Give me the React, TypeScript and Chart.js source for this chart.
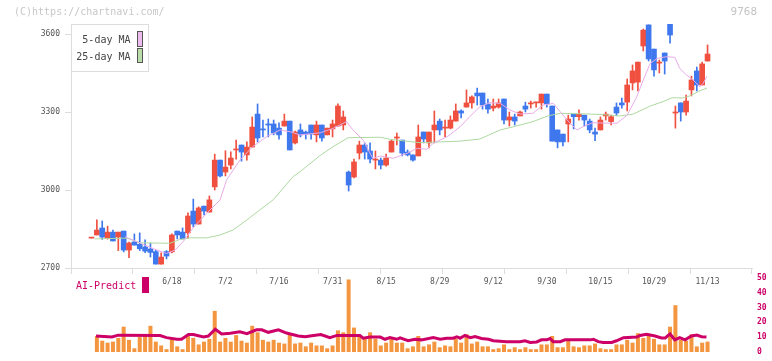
import React, { useEffect, useRef } from 'react';
import { Chart, registerables } from 'chart.js';

Chart.register(...registerables);

// ---------- data ----------
const OPEN = [
  2815, 2827, 2854, 2814, 2838, 2819, 2842, 2769, 2800, 2791,
  2781, 2773, 2763, 2715, 2763, 2762, 2842, 2838, 2835, 2919,
  2869, 2938, 2915, 3012, 3115, 3069, 3096, 3154, 3173, 3135,
  3165, 3292, 3235, 3254, 3254, 3238, 3246, 3265, 3181, 3231,
  3223, 3250, 3212, 3250, 3212, 3235, 3246, 3250, 3069, 3050,
  3142, 3173, 3150, 3115, 3115, 3096, 3146, 3200, 3192, 3146,
  3135, 3131, 3223, 3181, 3231, 3265, 3238, 3238, 3265, 3304,
  3319, 3335, 3373, 3373, 3331, 3315, 3319, 3350, 3269, 3281,
  3285, 3323, 3331, 3335, 3335, 3369, 3323, 3231, 3215, 3254,
  3292, 3282, 3288, 3265, 3223, 3231, 3285, 3263, 3319, 3335,
  3338, 3412, 3415, 3554, 3635, 3542, 3488, 3527, 3645, 3296,
  3335, 3300, 3385, 3458, 3404, 3496,
];
const HIGH = [
  2815, 2885, 2881, 2861, 2846, 2838, 2842, 2800, 2831, 2835,
  2808, 2796, 2769, 2758, 2767, 2831, 2842, 2854, 2912, 2965,
  2935, 2938, 2977, 3138, 3115, 3151, 3147, 3192, 3173, 3185,
  3281, 3331, 3269, 3273, 3269, 3258, 3292, 3265, 3227, 3254,
  3227, 3250, 3265, 3250, 3238, 3269, 3331, 3304, 3073, 3119,
  3188, 3181, 3181, 3150, 3123, 3138, 3192, 3219, 3192, 3154,
  3135, 3250, 3223, 3223, 3304, 3273, 3269, 3285, 3331, 3308,
  3385, 3362, 3392, 3373, 3350, 3350, 3350, 3350, 3300, 3292,
  3304, 3338, 3342, 3338, 3369, 3369, 3323, 3231, 3215, 3288,
  3292, 3308, 3288, 3273, 3238, 3281, 3300, 3288, 3335, 3354,
  3427, 3481, 3492, 3619, 3635, 3542, 3500, 3527, 3645, 3323,
  3335, 3365, 3438, 3473, 3492, 3558,
];
const LOW = [
  2815, 2827, 2810, 2811, 2804, 2767, 2762, 2740, 2788, 2767,
  2759, 2742, 2715, 2715, 2735, 2758, 2812, 2812, 2815, 2858,
  2869, 2904, 2915, 3000, 3050, 3054, 3081, 3119, 3111, 3115,
  3165, 3185, 3204, 3204, 3212, 3196, 3246, 3154, 3177, 3204,
  3196, 3196, 3185, 3188, 3212, 3204, 3246, 3231, 2996, 3046,
  3119, 3119, 3104, 3081, 3081, 3092, 3146, 3173, 3131, 3131,
  3111, 3131, 3181, 3162, 3181, 3212, 3204, 3235, 3265, 3277,
  3319, 3315, 3327, 3311, 3296, 3304, 3315, 3254, 3246, 3250,
  3285, 3300, 3315, 3319, 3311, 3319, 3188, 3162, 3170, 3185,
  3235, 3269, 3246, 3220, 3190, 3231, 3269, 3250, 3285, 3315,
  3304, 3385, 3381, 3535, 3496, 3438, 3450, 3446, 3565, 3238,
  3265, 3288, 3362, 3381, 3404, 3496,
];
const CLOSE = [
  2815, 2846, 2819, 2838, 2804, 2838, 2769, 2796, 2788, 2774,
  2765, 2760, 2715, 2742, 2746, 2827, 2827, 2812, 2900, 2869,
  2931, 2919, 2962, 3115, 3054, 3088, 3123, 3158, 3146, 3165,
  3242, 3200, 3231, 3250, 3219, 3212, 3265, 3154, 3223, 3212,
  3215, 3215, 3250, 3200, 3238, 3254, 3323, 3281, 3019, 3108,
  3173, 3146, 3119, 3119, 3096, 3123, 3188, 3204, 3142, 3135,
  3115, 3204, 3196, 3223, 3250, 3231, 3242, 3269, 3304, 3296,
  3335, 3358, 3362, 3327, 3311, 3323, 3335, 3269, 3281, 3265,
  3300, 3311, 3335, 3338, 3369, 3331, 3188, 3185, 3185, 3273,
  3282, 3292, 3269, 3231, 3215, 3269, 3292, 3282, 3296, 3327,
  3404, 3458, 3492, 3615, 3504, 3462, 3492, 3496, 3596, 3300,
  3300, 3342, 3423, 3404, 3485, 3523,
];
const VOLUME = [
  null, 10.8, 7.6, 6.3, 7.0, 9.5, 17.1, 8.2, 2.5, 10.1,
  10.8, 17.7, 7.0, 4.4, 1.9, 8.9, 3.8, 1.9, 10.8, 9.5,
  5.1, 7.0, 8.9, 27.8, 7.0, 9.5, 7.0, 11.4, 7.6, 6.3,
  17.7, 13.3, 8.2, 7.0, 8.2, 6.3, 5.7, 12.0, 5.7, 6.3,
  3.8, 6.3, 4.4, 4.4, 2.5, 4.4, 14.6, 13.3, 49.0, 16.5,
  10.8, 8.9, 13.3, 8.9, 4.4, 6.3, 8.9, 6.3, 6.3, 2.5,
  3.8, 10.8, 3.8, 5.1, 7.0, 3.2, 4.4, 3.8, 8.9, 6.3,
  12.0, 5.7, 7.0, 3.8, 3.8, 1.9, 2.5, 5.1, 1.9, 3.2,
  1.9, 3.2, 1.9, 1.9, 5.1, 5.1, 10.8, 3.2, 3.2, 7.6,
  3.8, 3.2, 4.4, 4.4, 5.7, 2.5, 1.9, 1.9, 5.1, 5.1,
  8.2, 6.3, 12.7, 9.5, 11.4, 8.9, 5.1, 5.1, 17.1, 31.6,
  8.2, 7.6, 12.0, 3.8, 6.3, 7.0,
];

const MA5_X = [6.25, 9.05, 12.2, 14.0, 15.6, 17.1, 18.9, 21.5, 24.0, 25.2, 27.7, 30.1, 32.7, 35.2, 37.1, 38.9, 42.7, 45.1, 47.6, 48.8, 50.7, 52.5, 53.9, 56.3, 58.9, 60.8, 62.6, 63.8, 66.4, 68.8, 70.6, 72.5, 74.4, 76.3, 78.1, 80.0, 82.4, 84.3, 86.2, 87.5, 88.8, 90.6, 91.7, 93.6, 96.2, 98.1, 100.0, 101.8, 103.0, 104.3, 105.6, 107.4, 108.9, 109.8, 111.1, 112.3, 113.6, 114.2, 114.9];
const MA5_Y = [2820, 2796, 2769, 2756, 2769, 2801, 2853, 2910, 2962, 3038, 3115, 3167, 3205, 3231, 3224, 3212, 3220, 3237, 3263, 3231, 3192, 3122, 3131, 3122, 3141, 3160, 3157, 3180, 3205, 3243, 3282, 3320, 3336, 3333, 3308, 3292, 3295, 3327, 3333, 3301, 3269, 3231, 3243, 3259, 3257, 3257, 3288, 3359, 3423, 3487, 3506, 3513, 3510, 3468, 3442, 3423, 3397, 3411, 3438];

const MA25_X = [0.65, 6.6, 9.05, 14.65, 16.5, 18.5, 21.5, 24.0, 26.4, 29.0, 31.4, 33.9, 37.6, 38.9, 42.7, 45.1, 47.9, 53.9, 55.7, 61.3, 65.1, 68.8, 72.5, 73.8, 76.3, 78.7, 82.4, 85.2, 87.5, 93.1, 95.5, 98.7, 101.1, 104.3, 106.7, 108.4, 110.4, 111.7, 113.6, 114.9];
const MA25_Y = [2812, 2815, 2797, 2795, 2810, 2816, 2816, 2827, 2846, 2885, 2923, 2962, 3051, 3070, 3133, 3167, 3201, 3203, 3195, 3182, 3185, 3188, 3196, 3208, 3231, 3243, 3263, 3285, 3295, 3292, 3290, 3285, 3292, 3323, 3340, 3355, 3354, 3362, 3382, 3392];

const AI_X = [0.84, 3.8, 5.0, 12.8, 14.0, 15.9, 16.8, 18.1, 19.0, 20.9, 21.8, 23.1, 24.3, 25.9, 27.7, 29.0, 30.8, 31.8, 33.0, 34.9, 36.4, 38.6, 39.9, 40.8, 42.8, 44.5, 45.8, 50.1, 50.7, 52.0, 53.9, 54.8, 55.7, 57.0, 57.6, 59.1, 60.4, 61.6, 63.8, 65.1, 66.3, 67.5, 68.2, 68.8, 69.7, 70.7, 71.6, 72.8, 74.1, 75.0, 77.5, 80.0, 80.9, 81.9, 83.1, 84.0, 85.0, 85.6, 86.2, 87.5, 88.4, 93.1, 93.7, 94.6, 95.5, 97.1, 98.0, 99.3, 101.8, 102.4, 103.6, 105.2, 106.4, 107.1, 108.0, 108.9, 109.8, 110.8, 112.0, 113.0, 113.9, 114.8];
const AI_Y = [10.8, 10.1, 11.4, 11.1, 9.7, 8.6, 8.6, 11.8, 11.8, 10.1, 10.8, 15.4, 12.2, 12.7, 13.7, 12.4, 15.0, 15.0, 13.3, 15.0, 12.8, 10.8, 10.3, 10.8, 11.8, 9.7, 11.2, 11.2, 9.3, 10.1, 10.1, 8.6, 9.7, 8.6, 9.5, 7.6, 8.6, 8.2, 9.7, 8.6, 9.3, 9.3, 10.3, 9.3, 11.2, 9.7, 10.5, 9.1, 8.6, 7.6, 7.0, 7.0, 7.6, 6.5, 6.8, 8.2, 8.2, 9.1, 7.0, 7.0, 8.2, 8.2, 8.6, 7.0, 6.5, 6.5, 7.6, 9.7, 10.1, 11.2, 12.0, 10.8, 9.5, 9.5, 12.2, 8.2, 9.7, 8.2, 10.8, 11.4, 10.3, 10.1];

const X_LABELS = ['6/18', '7/2', '7/16', '7/31', '8/15', '8/29', '9/12', '9/30', '10/15', '10/29', '11/13'];
const X_LABEL_POS = [15, 25, 35, 45, 55, 65, 75, 85, 95, 105, 115];
const PRICE_TICKS = [2700, 3000, 3300, 3600];
const AI_TICKS = [0, 10, 20, 30, 40, 50];
const LEGEND_LABELS = ['5-day MA', '25-day MA'];
const COPYRIGHT = '(C)https://chartnavi.com/';
const CODE = '9768';
const AI_LABEL = 'AI-Predict';

// ---------- style ----------
const X_MIN = -3.83;
const X_MAX = 123.3;
const GRID_DIVS = 11;
const MONO = '"DejaVu Sans Mono", monospace';
const RED = '#f0503f';
const BLUE = '#3f78ee';
const PINK = '#e8abe8';
const GREEN = '#add9a0';
const ORANGE = '#f3963f';
const MAGENTA = '#cc0066';
const AXIS = '#dddddd';

const gridPositions = () => {
  const out: number[] = [];
  for (let k = 0; k <= GRID_DIVS; k++) out.push(X_MIN + (k * (X_MAX - X_MIN)) / GRID_DIVS);
  return out;
};

const priceOverlay = {
  id: 'priceOverlay',
  afterDraw(chart: any) {
    const ctx = chart.ctx;
    const { left, top } = chart.chartArea;
    ctx.save();
    ctx.font = `10px ${MONO}`;
    ctx.textBaseline = 'middle';
    ctx.textAlign = 'left';
    ctx.fillStyle = '#c8c8c8';
    ctx.fillText(COPYRIGHT, 14, 12);
    ctx.textAlign = 'right';
    ctx.fillStyle = '#c4c4c4';
    ctx.font = `11px ${MONO}`;
    ctx.fillText(CODE, 757, 12);
    // legend box
    const bx = Math.round(left) + 0.5;
    const by = Math.round(top) + 0.5;
    ctx.fillStyle = '#ffffff';
    ctx.fillRect(bx, by, 77, 47);
    ctx.strokeStyle = AXIS;
    ctx.lineWidth = 1;
    ctx.strokeRect(bx, by, 77, 47);
    ctx.font = `10px ${MONO}`;
    ctx.fillStyle = '#444444';
    ctx.textAlign = 'right';
    ctx.fillText(LEGEND_LABELS[0], bx + 59, by + 16);
    ctx.fillText(LEGEND_LABELS[1], bx + 59, by + 33);
    ctx.strokeStyle = '#555555';
    ctx.fillStyle = '#eebbee';
    ctx.fillRect(bx + 66, by + 7, 5, 15);
    ctx.strokeRect(bx + 66, by + 7, 5, 15);
    ctx.fillStyle = '#bbddaa';
    ctx.fillRect(bx + 66, by + 24, 5, 14);
    ctx.strokeRect(bx + 66, by + 24, 5, 14);
    ctx.restore();
  },
};

const volumeOverlay = {
  id: 'volumeOverlay',
  afterDraw(chart: any) {
    const ctx = chart.ctx;
    ctx.save();
    ctx.font = `10px ${MONO}`;
    ctx.textBaseline = 'middle';
    ctx.textAlign = 'left';
    ctx.fillStyle = MAGENTA;
    ctx.fillText(AI_LABEL, 76, 17);
    ctx.fillRect(142, 8, 7, 16);
    ctx.restore();
  },
};

export default function App() {
  const aRef = useRef<HTMLCanvasElement | null>(null);
  const bRef = useRef<HTMLCanvasElement | null>(null);

  useEffect(() => {
    const colors = OPEN.map((o, i) => (CLOSE[i] >= o ? RED : BLUE));
    const labelSet = new Set(X_LABEL_POS);

    const chartA = new Chart(aRef.current as HTMLCanvasElement, {
      type: 'bar',
      data: {
        datasets: [
          {
            type: 'line',
            label: LEGEND_LABELS[0],
            data: MA5_X.map((x, i) => ({ x, y: MA5_Y[i] })),
            borderColor: PINK,
            borderWidth: 1,
            pointRadius: 0,
            order: 0,
          } as any,
          {
            type: 'line',
            label: LEGEND_LABELS[1],
            data: MA25_X.map((x, i) => ({ x, y: MA25_Y[i] })),
            borderColor: GREEN,
            borderWidth: 1,
            pointRadius: 0,
            order: 0,
          } as any,
          {
            type: 'bar',
            label: 'wick',
            data: OPEN.map((_, i) => ({ x: i, y: [LOW[i], HIGH[i]] })),
            backgroundColor: colors,
            barThickness: 1,
            grouped: false,
            order: 2,
          } as any,
          {
            type: 'bar',
            label: 'body',
            data: OPEN.map((o, i) => ({ x: i, y: [o, CLOSE[i]] })),
            backgroundColor: colors,
            barThickness: 5,
            minBarLength: 1,
            grouped: false,
            order: 1,
          } as any,
        ],
      },
      options: {
        responsive: false,
        animation: false,
        events: [],
        layout: { padding: { left: 0, top: 24, right: 20, bottom: 0 } },
        plugins: { legend: { display: false }, tooltip: { enabled: false } },
        scales: {
          x: {
            type: 'linear',
            min: X_MIN,
            max: X_MAX,
            offset: false,
            afterBuildTicks: (s: any) => {
              const vals = [...gridPositions(), ...X_LABEL_POS].sort((a, b) => a - b);
              s.ticks = vals.map((v) => ({ value: v }));
            },
            afterFit: (s: any) => {
              s.height = 32;
            },
            ticks: {
              autoSkip: false,
              maxRotation: 0,
              minRotation: 0,
              padding: 3,
              color: '#555555',
              font: { family: MONO, size: 8 },
              callback: (v: any) => {
                const k = X_LABEL_POS.indexOf(v);
                return k >= 0 ? X_LABELS[k] : '';
              },
            },
            grid: {
              offset: false,
              drawOnChartArea: false,
              drawTicks: true,
              tickLength: 6,
              color: AXIS,
              tickColor: (c: any) => (c.tick && labelSet.has(c.tick.value) ? 'rgba(0,0,0,0)' : AXIS),
            },
            border: { color: AXIS },
          } as any,
          y: {
            type: 'linear',
            min: 2700,
            max: 3638.5,
            beginAtZero: false,
            afterBuildTicks: (s: any) => {
              s.ticks = PRICE_TICKS.map((v) => ({ value: v }));
            },
            afterFit: (s: any) => {
              s.width = 71;
            },
            ticks: {
              padding: 5,
              color: '#555555',
              font: { family: MONO, size: 8 },
              callback: (v: any) => String(v),
            },
            grid: { drawOnChartArea: false, tickLength: 6, tickColor: AXIS, color: AXIS },
            border: { color: AXIS },
          } as any,
        },
      },
      plugins: [priceOverlay],
    });

    const chartB = new Chart(bRef.current as HTMLCanvasElement, {
      type: 'bar',
      data: {
        datasets: [
          {
            type: 'line',
            label: AI_LABEL,
            data: AI_X.map((x, i) => ({ x, y: AI_Y[i] })),
            borderColor: MAGENTA,
            borderWidth: 3,
            pointRadius: 0,
            yAxisID: 'y',
            order: 0,
          } as any,
          {
            type: 'bar',
            label: 'volume',
            data: VOLUME.map((v, i) => ({ x: i, y: v })),
            backgroundColor: ORANGE,
            barThickness: 4,
            inflateAmount: 0,
            yAxisID: 'yv',
            order: 1,
          } as any,
        ],
      },
      options: {
        responsive: false,
        animation: false,
        events: [],
        layout: { padding: { left: 71, top: 9, right: 0, bottom: 4 } },
        plugins: { legend: { display: false }, tooltip: { enabled: false } },
        scales: {
          x: { type: 'linear', min: X_MIN, max: X_MAX, offset: false, display: false } as any,
          y: {
            type: 'linear',
            position: 'right',
            min: 0,
            max: 50,
            afterBuildTicks: (s: any) => {
              s.ticks = AI_TICKS.map((v) => ({ value: v }));
            },
            afterFit: (s: any) => {
              s.width = 20;
            },
            ticks: {
              padding: 5,
              color: MAGENTA,
              font: { family: MONO, size: 8, weight: 'bold', lineHeight: 1 },
              callback: (v: any) => String(v),
            },
            grid: { display: false, drawTicks: false },
            border: { display: false },
          } as any,
          yv: { type: 'linear', display: false, min: 0, max: 50 } as any,
        },
      },
      plugins: [volumeOverlay],
    });

    return () => {
      chartA.destroy();
      chartB.destroy();
    };
  }, []);

  return (
    <div style={{ position: 'absolute', left: 0, top: 0, width: 772, height: 361, overflow: 'hidden', background: '#fff' }}>
      <canvas ref={aRef} width={772} height={300} style={{ position: 'absolute', left: 0, top: 0, width: 772, height: 300 }} />
      <canvas ref={bRef} width={772} height={92} style={{ position: 'absolute', left: 0, top: 269, width: 772, height: 92 }} />
    </div>
  );
}
